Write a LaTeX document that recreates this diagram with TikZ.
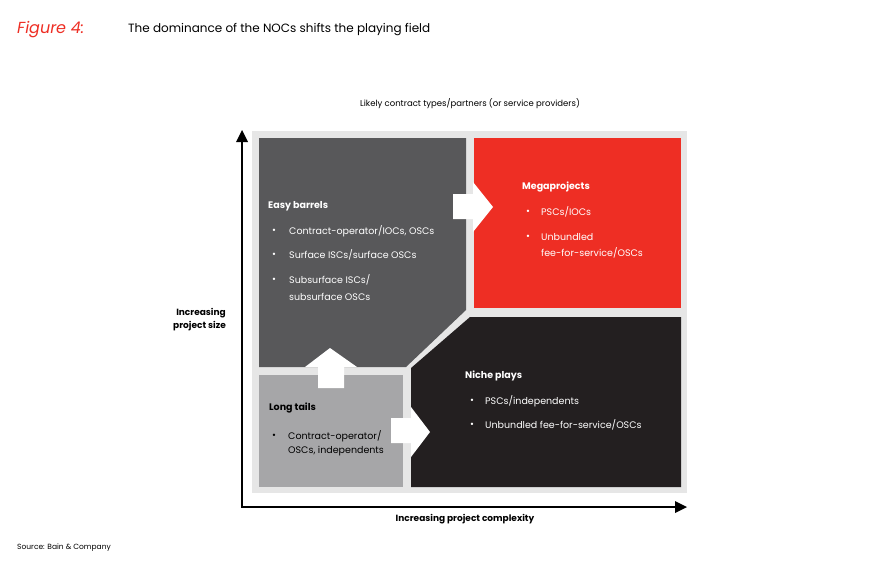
\documentclass[tikz,border=0pt]{standalone}
\usepackage{fontspec}
\setmainfont{Poppins}
\usetikzlibrary{calc}
\begin{document}
\begin{tikzpicture}[x=1pt,y=-1pt,
  txt/.style={anchor=west,inner sep=0pt,font=\fontsize{9.5}{11}\selectfont},
  wt/.style={txt,text=white},
  bt/.style={txt,text=black},
  hd/.style={font=\fontsize{9.5}{11}\selectfont\bfseries},
  blk/.style={fill=white,draw=none}]
\useasboundingbox[fill=white] (0,0) rectangle (885,563);
\definecolor{bred}{HTML}{EE2E24}
\definecolor{dgray}{HTML}{58585A}
\definecolor{lgray}{HTML}{A6A6A8}
\definecolor{bgg}{HTML}{E6E6E6}
\definecolor{nblack}{HTML}{231F20}
% title
\node[anchor=west,inner sep=0pt,text=bred,font=\fontsize{16}{18}\selectfont\itshape\rmfamily] (fig) at (17,30) {Figure 4:};
\node[anchor=west,inner sep=0pt,font=\fontsize{12}{14}\selectfont] (title) at (128,30) {The dominance of the NOCs shifts the playing field};
\node[inner sep=0pt,font=\fontsize{8.5}{10}\selectfont] (top) at (470,104) {Likely contract types/partners (or service providers)};
% background
\fill[bgg] (252,131) rectangle (687,493);
\fill[dgray] (259,138) -- (466,138) -- (466,310) -- (406,367) -- (259,367) -- cycle;
\fill[bred] (474,138) rectangle (681,308);
\fill[nblack] (411,368) -- (470,317) -- (681,317) -- (681,487) -- (411,487) -- cycle;
\fill[lgray] (259,375) rectangle (403,487);
% block arrows
\fill[blk] (453,194) -- (473,194) -- (473,182) -- (493,207) -- (473,232) -- (473,219) -- (453,219) -- cycle;
\fill[blk] (318,388) -- (318,367) -- (305,367) -- (330,348) -- (357,367) -- (344,367) -- (344,388) -- cycle;
\fill[blk] (391,418) -- (411,418) -- (411,407) -- (430,432) -- (411,457) -- (411,443) -- (391,443) -- cycle;
% axes
\coordinate (o) at (242,507);
\coordinate (ytip) at (242,130);
\coordinate (xtip) at (687,507);
\draw[line width=2.2pt] ($(ytip)+(0,8)$) -- (o) -- ($(xtip)+(-8,0)$);
\fill (ytip) -- ++(-6,12) -- ++(12,0) -- cycle;
\fill (xtip) -- ++(-12,-6) -- ++(0,12) -- cycle;
\node[inner sep=0pt,font=\fontsize{9}{10}\selectfont\bfseries] (xl) at (465,519) {Increasing project complexity};
\node[inner sep=0pt,font=\fontsize{9}{13}\selectfont\bfseries,align=right,anchor=east] (yl) at (226,320) {Increasing\\project size};
\node[anchor=west,inner sep=0pt,font=\fontsize{7.5}{9}\selectfont] (src) at (17,548) {Source: Bain \& Company};
% Easy barrels
\node[wt,hd] (eb) at (268,206) {Easy barrels};
\foreach \y/\t in {231/{Contract-operator/IOCs, OSCs},255/{Surface ISCs/surface OSCs},280/{Subsurface ISCs/}}
  {\node[wt] at (272,\y) {\textbullet}; \node[wt] at (289,\y) {\t};}
\node[wt] (eb4) at (289,297) {subsurface OSCs};
% Megaprojects
\node[wt,hd] (mp) at (522,187) {Megaprojects};
\foreach \y/\t in {212/{PSCs/IOCs},237/{Unbundled}}
  {\node[wt] at (526,\y) {\textbullet}; \node[wt] at (541,\y) {\t};}
\node[wt] (mp3) at (541,253) {fee-for-service/OSCs};
% Niche plays
\node[wt,hd] (np) at (465,376) {Niche plays};
\foreach \y/\t in {401/{PSCs/independents},425/{Unbundled fee-for-service/OSCs}}
  {\node[wt] at (470,\y) {\textbullet}; \node[wt] at (485,\y) {\t};}
% Long tails
\node[bt,hd] (lt) at (269,408) {Long tails};
\node[bt] at (272,436) {\textbullet};
\node[bt] (lt1) at (288,436) {Contract-operator/};
\node[bt] (lt2) at (288,451) {OSCs, independents};
\end{tikzpicture}
\end{document}
